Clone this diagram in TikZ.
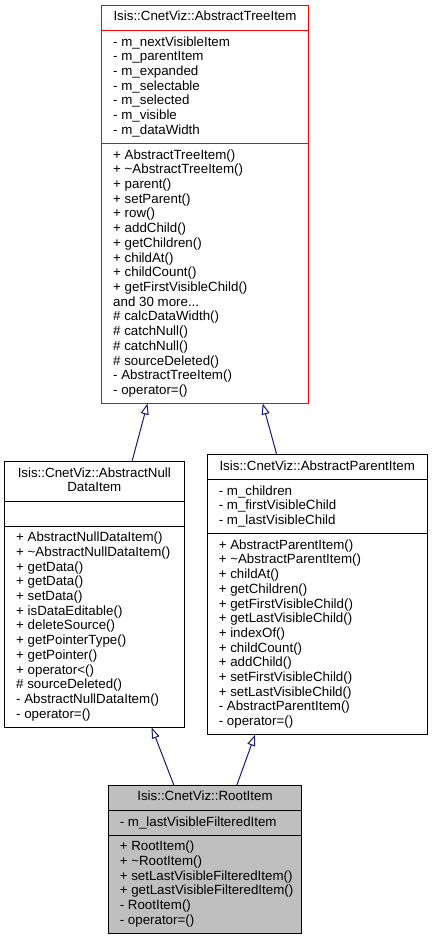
\documentclass[tikz,border=0pt]{standalone}
\usepackage{fontspec}
\setmainfont{Liberation Sans}
\usetikzlibrary{arrows.meta}
\definecolor{edgeblue}{HTML}{191970}
\definecolor{rootgray}{HTML}{BFBFBF}
\definecolor{treered}{HTML}{FF0000}
\tikzset{
  classbox/.style={draw, line width=1pt, inner sep=0pt, outer sep=0pt, anchor=north west, fill=white},
  sepline/.style={line width=1pt},
  txt/.style={inner sep=0pt, outer sep=0pt, font=\fontsize{13.33}{14.7}\selectfont},
  inherit/.style={draw=edgeblue, line width=1pt, -{Triangle[open, length=11pt, width=8pt]}},
}
\newcommand\threedots{...}
\newcommand\memberlines[4]{%
  \foreach [count=\i] \t in {#4} {
    \node[txt, anchor=base west] (#1\i) at (#2, {#3-(\i-1)*14.7}) {\t};
  }}
\begin{document}
\begin{tikzpicture}[x=1pt,y=1pt]
\useasboundingbox (0,0) rectangle (432,-941);
% ---------- AbstractTreeItem ----------
\node[classbox, draw=treered, minimum width=206.6pt, minimum height=397.8pt] (tree) at (101.7,-5.7) {};
\draw[sepline, treered] ([yshift=-24.8pt]tree.north west) -- ([yshift=-24.8pt]tree.north east);
\draw[sepline, treered] ([yshift=-137.8pt]tree.north west) -- ([yshift=-137.8pt]tree.north east);
\node[txt, anchor=base] (treet) at (205,-20.7) {Isis::CnetViz::AbstractTreeItem};
\memberlines{treea}{113.2}{-46.2}{- m\_nextVisibleItem, - m\_parentItem, - m\_expanded, - m\_selectable, - m\_selected, - m\_visible, - m\_dataWidth}
\memberlines{treem}{113.2}{-159.2}{+ AbstractTreeItem(), + \textasciitilde AbstractTreeItem(), + parent(), + setParent(), + row(), + addChild(), + getChildren(), + childAt(), + childCount(), + getFirstVisibleChild(), and 30 more\threedots, \# calcDataWidth(), \# catchNull(), \# catchNull(), \# sourceDeleted(), - AbstractTreeItem(), - operator=()}
% ---------- AbstractNullDataItem ----------
\node[classbox, minimum width=179.3pt, minimum height=266pt] (nulld) at (4.7,-461.5) {};
\draw[sepline] ([yshift=-39.5pt]nulld.north west) -- ([yshift=-39.5pt]nulld.north east);
\draw[sepline] ([yshift=-64.5pt]nulld.north west) -- ([yshift=-64.5pt]nulld.north east);
\node[txt, anchor=base] (nulldt1) at (94.3,-477) {Isis::CnetViz::AbstractNull};
\node[txt, anchor=base] (nulldt2) at (94.3,-491.7) {DataItem};
\memberlines{nulldm}{16.2}{-541.7}{+ AbstractNullDataItem(), + \textasciitilde AbstractNullDataItem(), + getData(), + getData(), + setData(), + isDataEditable(), + deleteSource(), + getPointerType(), + getPointer(), + operator<(), \# sourceDeleted(), - AbstractNullDataItem(), - operator=()}
% ---------- AbstractParentItem ----------
\node[classbox, minimum width=219.7pt, minimum height=280.3pt] (parent) at (207.3,-454.5) {};
\draw[sepline] ([yshift=-24.8pt]parent.north west) -- ([yshift=-24.8pt]parent.north east);
\draw[sepline] ([yshift=-79pt]parent.north west) -- ([yshift=-79pt]parent.north east);
\node[txt, anchor=base] (parentt) at (317.2,-470) {Isis::CnetViz::AbstractParentItem};
\memberlines{parenta}{218.8}{-495}{- m\_children, - m\_firstVisibleChild, - m\_lastVisibleChild}
\memberlines{parentm}{218.8}{-549.2}{+ AbstractParentItem(), + \textasciitilde AbstractParentItem(), + childAt(), + getChildren(), + getFirstVisibleChild(), + getLastVisibleChild(), + indexOf(), + childCount(), + addChild(), + setFirstVisibleChild(), + setLastVisibleChild(), - AbstractParentItem(), - operator=()}
% ---------- RootItem ----------
\node[classbox, fill=rootgray, minimum width=193.4pt, minimum height=147.9pt] (root) at (108.3,-785.5) {};
\draw[sepline] ([yshift=-24.8pt]root.north west) -- ([yshift=-24.8pt]root.north east);
\draw[sepline] ([yshift=-49.6pt]root.north west) -- ([yshift=-49.6pt]root.north east);
\node[txt, anchor=base] (roott) at (205,-800.5) {Isis::CnetViz::RootItem};
\memberlines{roota}{119.8}{-826}{- m\_lastVisibleFilteredItem}
\memberlines{rootm}{119.8}{-850.8}{+ RootItem(), + \textasciitilde RootItem(), + setLastVisibleFilteredItem(), + getLastVisibleFilteredItem(), - RootItem(), - operator=()}
% ---------- inheritance ----------
\draw[inherit] ([xshift=127.3pt]nulld.north west) -- ([xshift=45.8pt]tree.south west);
\draw[inherit] ([xshift=69.4pt]parent.north west) -- ([xshift=161pt]tree.south west);
\draw[inherit] ([xshift=65.7pt]root.north west) -- ([xshift=147pt]nulld.south west);
\draw[inherit] ([xshift=128.4pt]root.north west) -- ([xshift=47.7pt]parent.south west);
\end{tikzpicture}
\end{document}
